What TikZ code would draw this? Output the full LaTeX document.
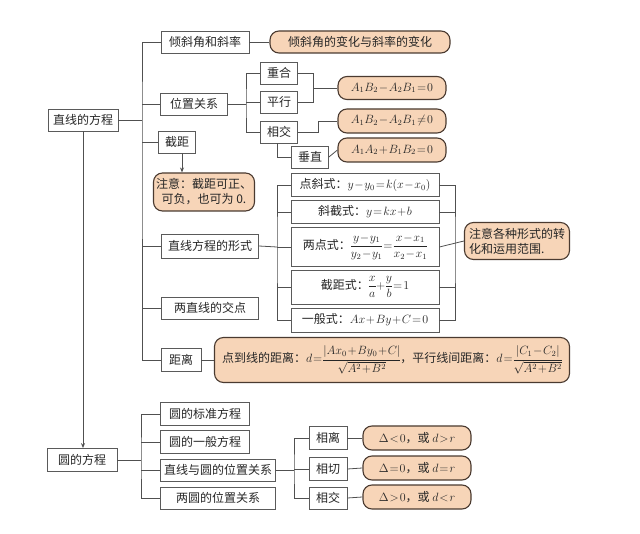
\documentclass[tikz,border=0pt]{standalone}
\usepackage{amsmath}
\usepackage{fontspec}
\setmainfont{Noto Sans CJK SC}
\usetikzlibrary{arrows.meta}
\definecolor{pillfill}{HTML}{F7D5B8}
\definecolor{pilldraw}{HTML}{4A3A30}
\definecolor{boxdraw}{HTML}{5A5A5A}
\definecolor{linecol}{HTML}{505050}
\newcommand{\tightmath}{\thinmuskip=1mu\medmuskip=1mu\thickmuskip=1.5mu\nulldelimiterspace=0pt}
\begin{document}
\begin{tikzpicture}[x=1pt,y=-1pt,
  every node/.style={font=\fontsize{12}{15}\selectfont\tightmath, text=black!85, inner sep=0pt},
  box/.style={draw=boxdraw, line width=0.8pt, fill=white, minimum height=22pt, align=center},
  pill/.style={draw=pilldraw, line width=1.1pt, fill=pillfill, rounded corners=9pt, align=center},
  conn/.style={draw=linecol, line width=0.8pt}]
\useasboundingbox (0,0) rectangle (640,534);
% top part
\node[box, minimum width=70pt] (zx) at (83,120) {直线的方程};
\node[box, minimum width=88pt] (qx) at (205,42) {倾斜角和斜率};
\node[pill, minimum width=180pt, minimum height=22pt] (qxp) at (360,42) {倾斜角的变化与斜率的变化};
\node[box, minimum width=67pt] (wz) at (194,104) {位置关系};
\node[box, minimum width=37pt] (ch) at (279,73) {重合};
\node[box, minimum width=37pt] (px) at (279,102) {平行};
\node[box, minimum width=37pt] (xj) at (279,132) {相交};
\node[box, minimum width=37pt] (cz) at (310,157) {垂直};
\node[pill, minimum width=108pt, minimum height=23pt] (p1) at (392,88) {$A_1B_2-A_2B_1=0$};
\node[pill, minimum width=108pt, minimum height=24pt] (p2) at (392,121) {$A_1B_2-A_2B_1\neq0$};
\node[pill, minimum width=108pt, minimum height=24pt] (p3) at (392,150) {$A_1A_2+B_1B_2=0$};
\node[box, minimum width=37pt] (jj) at (177,142) {截距};
\node[pill, minimum width=101pt, minimum height=38pt] (note) at (204,192) {注意：截距可正、\\可负，也可为 0.};
\node[box, minimum width=97pt, minimum height=24pt] (xs) at (210,246) {直线方程的形式};
\node[box, minimum width=148pt, minimum height=23pt] (f1) at (365,185) {点斜式：$y-y_0=k(x-x_0)$};
\node[box, minimum width=148pt, minimum height=23pt] (f2) at (365,212) {斜截式：$y=kx+b$};
\node[box, minimum width=148pt, minimum height=39pt] (f3) at (365,247) {两点式：$\dfrac{y-y_1}{y_2-y_1}=\dfrac{x-x_1}{x_2-x_1}$};
\node[box, minimum width=148pt, minimum height=34pt] (f4) at (365,287) {截距式：$\dfrac{x}{a}+\dfrac{y}{b}=1$};
\node[box, minimum width=148pt, minimum height=24pt] (f5) at (365,320) {一般式：$Ax+By+C=0$};
\node[pill, minimum width=105pt, minimum height=37pt, align=left] (fn) at (517,241) {注意各种形式的转\\化和运用范围.};
\node[box, minimum width=97pt] (jd) at (210,308) {两直线的交点};
\node[box, minimum width=40pt, minimum height=23pt] (jl) at (181,360) {距离};
\node[pill, minimum width=355pt, minimum height=45pt] (jlp) at (392,360) {点到线的距离：$d=\dfrac{|Ax_0+By_0+C|}{\sqrt{A^2+B^2}}$，平行线间距离：$d=\dfrac{|C_1-C_2|}{\sqrt{A^2+B^2}}$};
% bottom part
\node[box, minimum width=70pt, minimum height=23pt] (yf) at (82,460) {圆的方程};
\node[box, minimum width=89pt, minimum height=23pt] (y1) at (205,414) {圆的标准方程};
\node[box, minimum width=89pt, minimum height=23pt] (y2) at (205,442) {圆的一般方程};
\node[box, minimum width=115pt] (y3) at (218,470) {直线与圆的位置关系};
\node[box, minimum width=115pt] (y4) at (218,498) {两圆的位置关系};
\node[box, minimum width=38pt, minimum height=23pt] (s1) at (328,438) {相离};
\node[box, minimum width=38pt, minimum height=23pt] (s2) at (328,469) {相切};
\node[box, minimum width=38pt, minimum height=22pt] (s3) at (328,498) {相交};
\node[pill, minimum width=108pt, minimum height=24pt] (q1) at (417,438) {$\Delta<0$，或 $d>r$};
\node[pill, minimum width=108pt, minimum height=24pt] (q2) at (417,468) {$\Delta=0$，或 $d=r$};
\node[pill, minimum width=108pt, minimum height=24pt] (q3) at (417,497) {$\Delta>0$，或 $d<r$};
% coordinates
\coordinate (tr) at (142,120);
\coordinate (wv) at (246,104);
\coordinate (b1) at (313,88);
\coordinate (fv) at (277,247);
\coordinate (rv) at (455,247);
\coordinate (bt) at (141,460);
\coordinate (sv) at (294,470);
% connectors top
\draw[conn] (zx.east) -- (tr);
\draw[conn] (qx.west) -| (tr) |- (jl.west);
\draw[conn] (tr |- wz.west) -- (wz.west);
\draw[conn] (tr |- jj.west) -- (jj.west);
\draw[conn] (tr |- xs.west) -- (xs.west);
\draw[conn] (tr |- jd.west) -- (jd.west);
\draw[conn] (qx.east) -- (qxp.west);
\draw[conn] (wz.east) -- (wv);
\draw[conn] (ch.west) -| (wv) |- (xj.west);
\draw[conn] (px.west) -- (wv |- px.west);
\draw[conn] (ch.east) -| (b1);
\draw[conn] (px.east) -| (b1);
\draw[conn] (b1) -- (p1.west);
\draw[conn] (xj.east) -- ++(20,0) |- (p2.west);
\draw[conn] ([xshift=-2pt]xj.south) |- (cz.west);
\draw[conn] (cz.east) -- (p3.west);
\draw[conn, -{Stealth[length=5pt,width=4pt]}] ([xshift=5pt]jj.south) -- ([xshift=5pt]jj.south |- note.north);
\draw[conn] (xs.east) -- (fv);
\draw[conn] (f1.west) -| (fv) |- (f5.west);
\draw[conn] (f2.west) -- (fv |- f2.west);
\draw[conn] (f3.west) -- (fv |- f3.west);
\draw[conn] (f4.west) -- (fv |- f4.west);
\draw[conn] (f1.east) -| (rv) |- (f5.east);
\draw[conn] (f2.east) -- (rv |- f2.east);
\draw[conn] (f4.east) -- (rv |- f4.east);
\draw[conn] (f3.east) -- (fn.west);
\draw[conn] (jl.east) -- (jlp.west);
\draw[conn, -{Stealth[length=5pt,width=4pt]}] (zx.south) -- (zx.south |- yf.north);
% connectors bottom
\draw[conn] (yf.east) -- (bt);
\draw[conn] (y1.west) -| (bt) |- (y4.west);
\draw[conn] (y2.west) -- (bt |- y2.west);
\draw[conn] (y3.west) -- (bt |- y3.west);
\draw[conn] (y3.east) -- (sv);
\draw[conn] (s1.west) -| (sv) |- (s3.west);
\draw[conn] (s2.west) -- (sv |- s2.west);
\draw[conn] (s1.east) -- (q1.west);
\draw[conn] (s2.east) -- (q2.west);
\draw[conn] (s3.east) -- (q3.west);
\end{tikzpicture}
\end{document}
